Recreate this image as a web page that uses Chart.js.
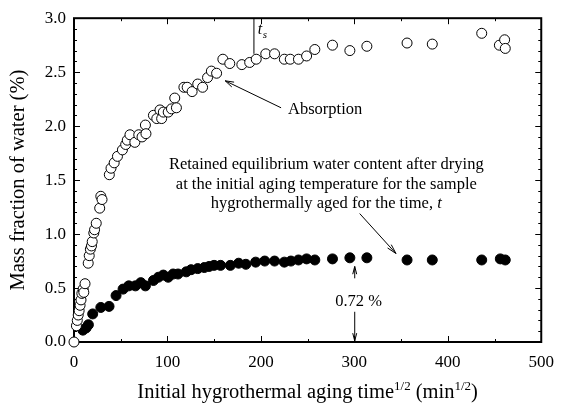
<!DOCTYPE html>
<html>
<head>
<meta charset="utf-8">
<style>
  html, body { margin: 0; padding: 0; background: #fff; }
  #wrap { width: 564px; height: 408px; }
</style>
</head>
<body>
<div id="wrap"><canvas id="waterChart" width="564" height="408"></canvas></div>
<script src="https://cdn.jsdelivr.net/npm/chart.js@4.4.0/dist/chart.umd.min.js"></script>
<script>
// absorption run (open symbols): sqrt(time) in min^1/2 vs. mass fraction in %
const absorptionTime = [0, 2.6, 3.5, 4.5, 5.5, 6.5, 7.5, 8.4, 9.8, 10.5, 11.8, 15.2, 16.3, 17.5, 18.7, 19.5, 21.2, 22.0, 23.8, 27.5,
  28.7, 30.0, 37.8, 39.6, 43.0, 46.5, 51.8, 55.3, 57.0, 59.9, 65.1, 69.3, 72.8, 76.4, 77.0, 85.0, 88.6, 92.0, 93.8, 95.6,
  100.8, 104.3, 107.8, 109.6, 117.6, 121.1, 126.4, 132.4, 137.6, 142.9, 147.0, 152.6, 159.3, 166.7, 179.6, 188.0, 195.0, 205.2, 214.6, 225.1,
  231.4, 240.2, 248.9, 257.7, 276.6, 295.2, 313.4, 356.4, 383.4, 436.3, 455.2, 460.8, 461.5];
const absorptionWater = [0.0, 0.15, 0.20, 0.25, 0.29, 0.34, 0.39, 0.45, 0.49, 0.46, 0.54, 0.73, 0.80, 0.86, 0.89, 0.93, 1.01, 1.04, 1.10, 1.24,
  1.35, 1.32, 1.55, 1.61, 1.66, 1.72, 1.78, 1.83, 1.87, 1.92, 1.85, 1.92, 1.90, 2.01, 1.93, 2.10, 2.07, 2.15, 2.07, 2.13,
  2.13, 2.16, 2.26, 2.17, 2.36, 2.36, 2.32, 2.39, 2.36, 2.45, 2.51, 2.49, 2.62, 2.58, 2.57, 2.59, 2.62, 2.67, 2.67, 2.62,
  2.62, 2.62, 2.65, 2.71, 2.75, 2.70, 2.74, 2.77, 2.76, 2.86, 2.75, 2.80, 2.72];

// water still held after drying at the aging temperature (filled symbols)
const retainedTime = [9.5, 12.9, 15.4, 20.0, 28.7, 37.5, 45.0, 52.5, 58.6, 65.7, 71.5, 76.4, 85.0, 90.3, 95.6, 100.8, 106.1, 111.3, 120.1, 125.3,
  132.4, 139.4, 144.6, 149.9, 156.8, 167.3, 176.2, 183.9, 194.4, 204.1, 214.6, 225.1, 232.1, 240.2, 248.9, 257.7, 276.6, 295.2, 313.4, 356.4,
  383.4, 436.3, 456.2, 461.5];
const retainedWater = [0.11, 0.13, 0.16, 0.26, 0.32, 0.33, 0.43, 0.49, 0.52, 0.52, 0.55, 0.52, 0.57, 0.60, 0.62, 0.60, 0.63, 0.63, 0.65, 0.67,
  0.68, 0.69, 0.70, 0.71, 0.71, 0.71, 0.73, 0.72, 0.74, 0.75, 0.75, 0.74, 0.75, 0.76, 0.77, 0.76, 0.77, 0.78, 0.78, 0.76,
  0.76, 0.76, 0.77, 0.76];

const xTickLabels = ['0', '100', '200', '300', '400', '500'];
const yTickLabels = ['0.0', '0.5', '1.0', '1.5', '2.0', '2.5', '3.0'];

const saturationTime = 192;   // t_s marker
const retainedLevel = '0.72 %';
const retainedNote = [
  'Retained equilibrium water content after drying',
  'at the initial aging temperature for the sample',
  'hygrothermally aged for the time, '
];

const SERIF = '"Liberation Serif", "Times New Roman", serif';
const NOTE = '16.5px ' + SERIF;
const NOTE_IT = 'italic 16.5px ' + SERIF;

function toPoints(xs, ys) {
  return xs.map((x, i) => ({ x: x, y: ys[i] }));
}

function arrow(ctx, x1, y1, x2, y2, size, spread) {
  const a = Math.atan2(y2 - y1, x2 - x1);
  ctx.beginPath();
  ctx.moveTo(x1, y1);
  ctx.lineTo(x2, y2);
  ctx.moveTo(x2 - size * Math.cos(a - spread), y2 - size * Math.sin(a - spread));
  ctx.lineTo(x2, y2);
  ctx.lineTo(x2 - size * Math.cos(a + spread), y2 - size * Math.sin(a + spread));
  ctx.stroke();
}

// box with inward ticks on all four sides, drawn under the symbols
const framePlugin = {
  id: 'frame',
  beforeDatasetsDraw(chart) {
    const { ctx, chartArea: a, scales: { x, y } } = chart;
    ctx.save();
    ctx.strokeStyle = '#000';
    ctx.lineWidth = 1;
    ctx.beginPath();
    for (let v = 0; v <= 500; v += 50) {
      const px = Math.round(x.getPixelForValue(v)) + 0.5;
      const len = v % 100 === 0 ? 6 : 3;
      ctx.moveTo(px, a.bottom); ctx.lineTo(px, a.bottom - len);
      ctx.moveTo(px, a.top); ctx.lineTo(px, a.top + len);
    }
    for (let i = 0; i <= 30; i++) {
      const py = Math.round(y.getPixelForValue(i / 10)) + 0.5;
      const len = i % 5 === 0 ? 6 : 3;
      ctx.moveTo(a.left, py); ctx.lineTo(a.left + len, py);
      ctx.moveTo(a.right, py); ctx.lineTo(a.right - len, py);
    }
    ctx.stroke();
    ctx.lineWidth = 2;
    ctx.strokeRect(a.left, a.top, a.right - a.left, a.bottom - a.top);
    ctx.restore();
  },
  afterDraw(chart) {
    const { ctx, chartArea: a, scales: { x, y } } = chart;
    const X = v => x.getPixelForValue(v);
    const Y = v => y.getPixelForValue(v);
    ctx.save();
    ctx.fillStyle = '#000';
    ctx.strokeStyle = '#000';

    // t_s marker
    ctx.lineWidth = 1;
    ctx.beginPath();
    ctx.moveTo(X(saturationTime) + 0.5, a.top);
    ctx.lineTo(X(saturationTime) + 0.5, Y(2.67));
    ctx.stroke();
    ctx.textBaseline = 'alphabetic';
    ctx.textAlign = 'left';
    ctx.font = 'italic 16px ' + SERIF;
    ctx.fillText('t', X(196.5), Y(2.85));
    ctx.font = 'italic 11px ' + SERIF;
    ctx.fillText('s', X(196.5) + 5, Y(2.82));

    // absorption label
    ctx.font = NOTE;
    ctx.textBaseline = 'middle';
    ctx.fillText('Absorption', X(229), Y(2.15));
    arrow(ctx, X(221.6), Y(2.17), X(161.8), Y(2.42), 9, 0.3);

    // note on retained water
    ctx.textAlign = 'center';
    const cx = X(270);
    ctx.fillText(retainedNote[0], cx, Y(1.64));
    ctx.fillText(retainedNote[1], cx, Y(1.455));
    const w3 = ctx.measureText(retainedNote[2]).width;
    ctx.font = NOTE_IT;
    const wt = ctx.measureText('t').width;
    ctx.textAlign = 'left';
    ctx.font = NOTE;
    ctx.fillText(retainedNote[2], cx - (w3 + wt) / 2, Y(1.28));
    ctx.font = NOTE_IT;
    ctx.fillText('t', cx - (w3 + wt) / 2 + w3, Y(1.28));
    arrow(ctx, X(305.7), Y(1.19), X(344.5), Y(0.82), 10, 0.25);

    // 0.72 % level
    ctx.font = NOTE;
    ctx.textAlign = 'center';
    ctx.fillText(retainedLevel, X(304.5), Y(0.37));
    arrow(ctx, X(300.4), Y(0.59), X(300.4), Y(0.70), 8, 0.25);
    arrow(ctx, X(300.4), Y(0.28), X(300.4), Y(0.01), 8, 0.25);

    // axis titles with superscripts
    const big = '20.5px ' + SERIF, sup = '13px ' + SERIF;
    const parts = [['Initial hygrothermal aging time', big, 0], ['1/2', sup, -8], [' (min', big, 0], ['1/2', sup, -8], [')', big, 0]];
    let total = 0;
    parts.forEach(p => { ctx.font = p[1]; total += ctx.measureText(p[0]).width; });
    let tx = (a.left + a.right) / 2 - total / 2;
    ctx.textAlign = 'left';
    ctx.textBaseline = 'alphabetic';
    parts.forEach(p => {
      ctx.font = p[1];
      ctx.fillText(p[0], tx, 398 + p[2]);
      tx += ctx.measureText(p[0]).width;
    });

    ctx.translate(19, (a.top + a.bottom) / 2);
    ctx.rotate(-Math.PI / 2);
    ctx.font = '20.5px ' + SERIF;
    ctx.textAlign = 'center';
    ctx.textBaseline = 'middle';
    ctx.fillText('Mass fraction of water (%)', 0, 0);
    ctx.restore();
  }
};

new Chart(document.getElementById('waterChart'), {
  type: 'scatter',
  data: {
    datasets: [
      {
        label: 'Absorption',
        data: toPoints(absorptionTime, absorptionWater),
        pointRadius: 5,
        pointBackgroundColor: '#fff',
        pointBorderColor: '#000',
        pointBorderWidth: 1,
        clip: false
      },
      {
        label: 'Retained after drying',
        data: toPoints(retainedTime, retainedWater),
        pointRadius: 5,
        pointBackgroundColor: '#000',
        pointBorderColor: '#000',
        pointBorderWidth: 1,
        clip: false
      }
    ]
  },
  options: {
    responsive: false,
    animation: false,
    layout: { padding: { left: 0, right: 14, top: 16, bottom: 0 } },
    plugins: { legend: { display: false }, tooltip: { enabled: false } },
    scales: {
      x: {
        type: 'linear',
        min: 0, max: 500,
        afterFit: s => { s.height = 66; },
        afterBuildTicks: s => { s.ticks = xTickLabels.map(t => ({ value: Number(t) })); },
        grid: { display: false, drawTicks: false },
        border: { display: false },
        ticks: {
          padding: 10,
          color: '#000',
          font: { family: SERIF, size: 17 },
          callback: (v, i) => xTickLabels[i]
        }
      },
      y: {
        type: 'linear',
        min: 0, max: 3,
        afterFit: s => { s.width = 74; },
        afterBuildTicks: s => { s.ticks = yTickLabels.map(t => ({ value: Number(t) })); },
        grid: { display: false, drawTicks: false },
        border: { display: false },
        ticks: {
          padding: 8,
          color: '#000',
          font: { family: SERIF, size: 17 },
          callback: (v, i) => yTickLabels[i]
        }
      }
    }
  },
  plugins: [framePlugin]
});
</script>
</body>
</html>
